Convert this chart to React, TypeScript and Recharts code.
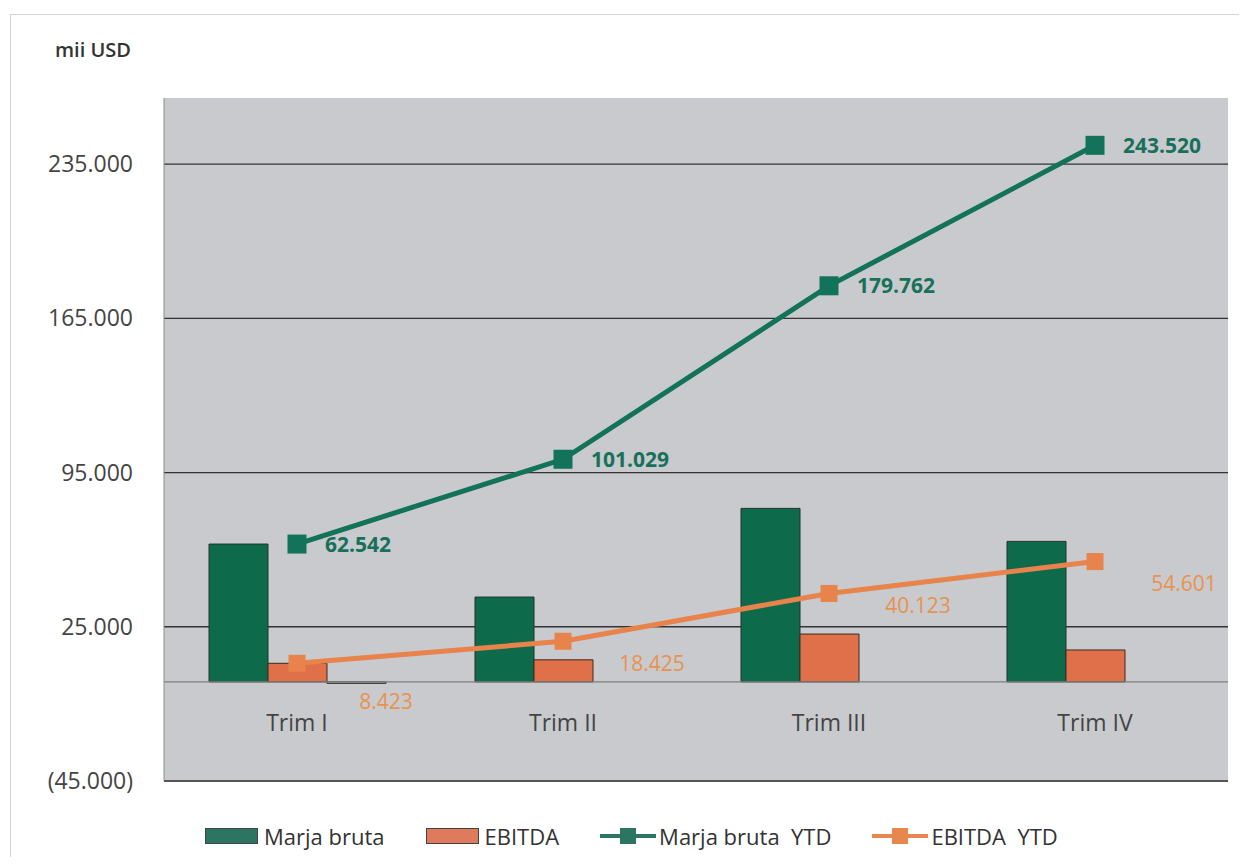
import React from 'react';
import {
  ComposedChart, Bar, Line, XAxis, YAxis, CartesianGrid, ReferenceLine, Legend, LabelList,
} from 'recharts';

const quarters = ['Trim I', 'Trim II', 'Trim III', 'Trim IV'];
const marjaBruta = [62542, 38487, 78733, 63758];
const ebitda = [8423, 10002, 21698, 14478];
const other = [-700, 0, 0, 0];
const marjaBrutaYTD = [62542, 101029, 179762, 243520];
const ebitdaYTD = [8423, 18425, 40123, 54601];
const yTicks = [-45000, 25000, 95000, 165000, 235000];

const data = quarters.map((q, i) => ({
  quarter: q,
  marja: marjaBruta[i],
  ebitda: ebitda[i],
  other: other[i],
  marjaYTD: marjaBrutaYTD[i],
  ebitdaYTD: ebitdaYTD[i],
}));

const FONT = '"Open Sans", sans-serif';
const GREEN_BAR = '#0d6b4b';
const GREEN_LINE = '#12725a';
const ORANGE_BAR = '#e0704a';
const ORANGE_LINE = '#e8834c';
const ebitdaLabelDy = [38, 22, 12, 21];

const legendItems = [
  { name: 'Marja bruta', color: '#2c7562', kind: 'rect' },
  { name: 'EBITDA', color: '#e07a5c', kind: 'rect' },
  { name: 'Marja bruta  YTD', color: '#2c7562', kind: 'line' },
  { name: 'EBITDA  YTD', color: '#e8864f', kind: 'line' },
];

const fmt = (v: number) => {
  const s = Math.abs(Math.round(v)).toString().replace(/\B(?=(\d{3})+(?!\d))/g, '.');
  return v < 0 ? `(${s})` : s;
};

const XTick = (props: any) => {
  const { x, y, payload } = props;
  return (
    <text x={x} y={y - 50} textAnchor="middle" fill="#444" fontSize={23} fontFamily={FONT}>
      {payload.value}
    </text>
  );
};

const SquareDot = (size: number, color: string) => (props: any) => {
  const { cx, cy, index } = props;
  if (cx == null || cy == null) return <g key={index} />;
  return <rect key={index} x={cx - size / 2} y={cy - size / 2} width={size} height={size} fill={color} />;
};

const EbitdaLabel = (props: any) => {
  const { x, y, value, index } = props;
  return (
    <text
      x={x + 89}
      y={y + ebitdaLabelDy[index]}
      textAnchor="middle"
      dominantBaseline="central"
      fill="#e8924f"
      fontSize={21}
      fontFamily={FONT}
    >
      {fmt(value)}
    </text>
  );
};

const renderLegend = () => (
  <div style={{ display: 'flex', alignItems: 'center', gap: 41, fontFamily: FONT, fontSize: 22, color: '#333' }}>
    {legendItems.map((item, i) => (
      <div key={i} style={{ display: 'flex', alignItems: 'center' }}>
        {item.kind === 'line' ? (
          <svg width={56} height={20} style={{ marginRight: 3 }}>
            <line x1={0} y1={10} x2={56} y2={10} stroke={item.color} strokeWidth={4} />
            <rect x={20} y={2} width={16} height={16} fill={item.color} />
          </svg>
        ) : (
          <svg width={54} height={17} style={{ marginRight: 5 }}>
            <rect x={0.5} y={0.5} width={52} height={15} fill={item.color} stroke="#444" strokeWidth={1} />
          </svg>
        )}
        <span style={{ whiteSpace: 'pre' }}>{item.name}</span>
      </div>
    ))}
  </div>
);

export default function App() {
  return (
    <div style={{ position: 'relative', width: 1231, height: 849, background: '#fff' }}>
      <div
        style={{
          position: 'absolute', left: 2, top: 6, width: 1229, height: 843,
          borderTop: '1px solid #d4d4d4', borderLeft: '1px solid #d4d4d4', boxSizing: 'border-box',
        }}
      />
      <svg style={{ position: 'absolute', left: 0, top: 0 }} width={200} height={80}>
        <text x={47} y={49} fontSize={20} fontWeight={600} fill="#333" fontFamily={FONT}>mii USD</text>
      </svg>
      <ComposedChart
        width={1231}
        height={849}
        data={data}
        margin={{ top: 90, right: 11, left: 0, bottom: 75 }}
        barCategoryGap={45}
        barGap={0}
      >
        <CartesianGrid vertical={false} horizontal={false} fill="#c8cacd" stroke="none" />
        <CartesianGrid vertical={false} horizontal syncWithTicks stroke="#333" strokeWidth={1.3} />
        <XAxis
          dataKey="quarter"
          height={1}
          axisLine={false}
          tickLine={false}
          tickSize={0}
          tickMargin={0}
          tick={XTick}
          interval={0}
        />
        <YAxis
          width={156}
          domain={[-45000, 265000]}
          ticks={yTicks}
          allowDataOverflow
          tickFormatter={fmt}
          tickLine={false}
          tickSize={0}
          tickMargin={31}
          axisLine={{ stroke: '#8c8c8c', strokeWidth: 1 }}
          tick={{ fill: '#444', fontSize: 23, fontFamily: FONT }}
        />
        <ReferenceLine y={-45000} stroke="#555" strokeWidth={2} />
        <ReferenceLine y={0} stroke="#7d7d7d" strokeWidth={1.3} />
        <Bar dataKey="marja" name="Marja bruta" fill={GREEN_BAR} stroke="#24332c" strokeWidth={1} isAnimationActive={false} />
        <Bar dataKey="ebitda" name="EBITDA" fill={ORANGE_BAR} stroke="#3a2a22" strokeWidth={1} isAnimationActive={false} />
        <Bar dataKey="other" name="other" fill="#c8cacd" stroke="#333" strokeWidth={1} isAnimationActive={false} legendType="none" />
        <Line
          dataKey="marjaYTD"
          name="Marja bruta  YTD"
          stroke={GREEN_LINE}
          strokeWidth={5}
          dot={SquareDot(19, GREEN_LINE)}
          activeDot={false}
          isAnimationActive={false}
        >
          <LabelList
            dataKey="marjaYTD"
            position="right"
            offset={28}
            formatter={(v: any) => fmt(Number(v))}
            fill="#17705a"
            fontSize={21}
            fontWeight={700}
            fontFamily={FONT}
          />
        </Line>
        <Line
          dataKey="ebitdaYTD"
          name="EBITDA  YTD"
          stroke={ORANGE_LINE}
          strokeWidth={5}
          dot={SquareDot(17, ORANGE_LINE)}
          activeDot={false}
          isAnimationActive={false}
        >
          <LabelList dataKey="ebitdaYTD" content={<EbitdaLabel />} />
        </Line>
        <Legend
          layout="horizontal"
          verticalAlign="middle"
          align="center"
          content={renderLegend}
          wrapperStyle={{ position: 'absolute', left: 197, top: 813, width: 'auto', height: 'auto' }}
        />
      </ComposedChart>
    </div>
  );
}
